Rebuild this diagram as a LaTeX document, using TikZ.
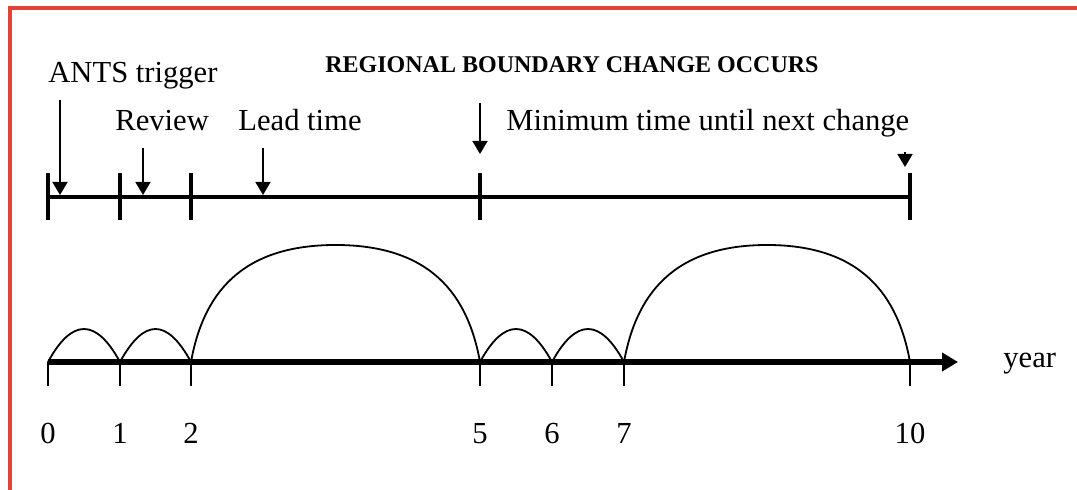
\documentclass[tikz,border=0pt]{standalone}
\usepackage{fontspec}
\setmainfont{Liberation Serif}
\usetikzlibrary{arrows.meta}

\definecolor{framered}{RGB}{228,66,56}

\tikzset{
  frame/.style={draw=framered, line width=2pt},
  lbl/.style={inner sep=0pt, font=\fontsize{15.3}{18}\selectfont},
  banner/.style={inner sep=0pt, font=\bfseries\fontsize{12}{14}\selectfont},
  topline/.style={line width=1.8pt},
  toptick/.style={line width=1.7pt},
  pointer/.style={line width=0.9pt, -{Triangle[length=6.5pt,width=7.5pt]}},
  axis/.style={line width=2.8pt, -{Triangle[length=8pt,width=9pt]}},
  axtick/.style={line width=0.9pt},
  hump/.style={line width=0.9pt}
}

\begin{document}
\begin{tikzpicture}[x=0.5pt,y=-0.5pt]
  \useasboundingbox (0,0) rectangle (1077,490);
  \draw[frame] (10,490) -- (10,8.5) -- (1077,8.5);

  % upper timeline
  \foreach \n/\x in {0/48,1/120,2/191,5/480,10/910}
    \coordinate (t\n) at (\x,197);
  \draw[topline] (t0) -- (t10);
  \foreach \n in {0,1,2,5,10}
    \draw[toptick] (t\n) ++(0,-24) -- ++(0,47);

  \node[banner, anchor=base west] (change) at (325,73) {REGIONAL BOUNDARY CHANGE OCCURS};
  \node[lbl, anchor=base west] (ants) at (48,83) {ANTS trigger};
  \node[lbl, anchor=base west] (review) at (115,131) {Review};
  \node[lbl, anchor=base west] (lead) at (238,131) {Lead time};
  \node[lbl, anchor=base west] (minimum) at (506,131) {Minimum time until next change};

  \coordinate (ants top) at (60,100);   \coordinate (ants tip) at (60,195);
  \coordinate (review top) at (143,148); \coordinate (review tip) at (143,195);
  \coordinate (lead top) at (263,148);   \coordinate (lead tip) at (263,195);
  \coordinate (change top) at (480,103); \coordinate (change tip) at (480,154);
  \coordinate (next top) at (905,152);   \coordinate (next tip) at (905,167);
  \foreach \a in {ants,review,lead,change,next}
    \draw[pointer] (\a\space top) -- (\a\space tip);

  % lower axis
  \foreach \n/\x in {0/48,1/120,2/191,5/480,6/552,7/624,10/910} {
    \coordinate (b\n) at (\x,362);
    \draw[axtick] (b\n) -- ++(0,24);
    \node[lbl, anchor=base] (n\n) at (\x,444) {\n};
  }
  \coordinate (axis end) at (958,362);
  \node[lbl, anchor=base west] (year) at (1003,368) {year};

  % humps
  \draw[hump] (b0) .. controls (72,318) and (96,318) .. (b1);
  \draw[hump] (b1) .. controls (144,318) and (167,318) .. (b2);
  \draw[hump] (b5) .. controls (504,318) and (528,318) .. (b6);
  \draw[hump] (b6) .. controls (576,318) and (600,318) .. (b7);
  \draw[hump] (b2) .. controls (203,295) and (240,245) .. (335.5,245)
                   .. controls (431,245) and (468,295) .. (b5);
  \draw[hump] (b7) .. controls (636,295) and (673,245) .. (767,245)
                   .. controls (861,245) and (898,295) .. (b10);

  \draw[axis] (b0) -- (axis end);
\end{tikzpicture}
\end{document}
